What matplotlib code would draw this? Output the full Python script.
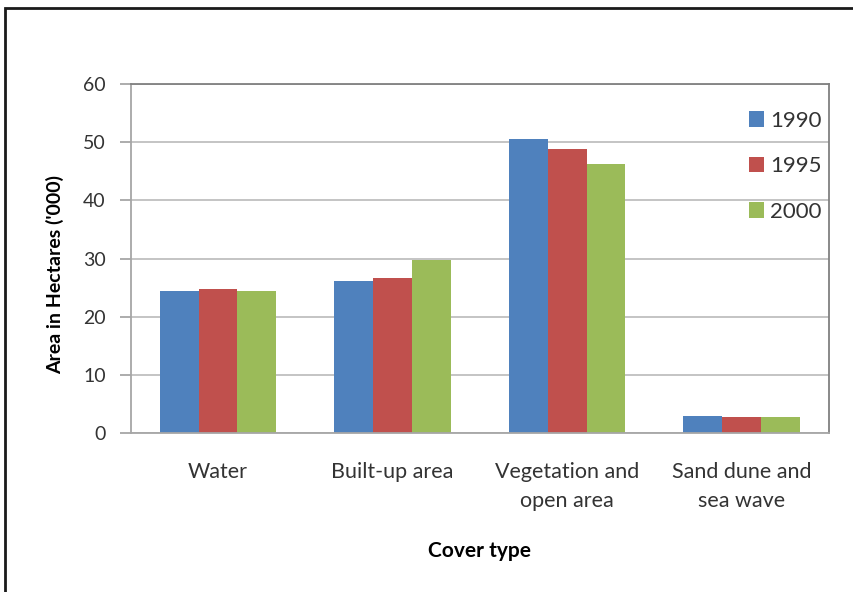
import numpy as np
import matplotlib.pyplot as plt
from matplotlib.patches import Rectangle

plt.rcParams['font.family'] = ['Lato', 'DejaVu Sans']

# area per cover type, thousands of hectares
cover_types = ["Water", "Built-up area", "Vegetation and\nopen area", "Sand dune and\nsea wave"]
years = ["1990", "1995", "2000"]
area_1990 = [24.4, 26.1, 50.6, 3.0]
area_1995 = [24.7, 26.6, 48.9, 2.75]
area_2000 = [24.4, 29.7, 46.2, 2.75]
colors = ["#4F81BD", "#C0504D", "#9BBB59"]

W, H = 854, 592
L, R, T, B = 130.7, 829, 84, 433
fig = plt.figure(figsize=(W / 100, H / 100), dpi=100)
ax = fig.add_axes([L / W, 1 - B / H, (R - L) / W, (B - T) / H])

x = np.arange(len(cover_types))
bw = 0.667 / 3
for i, (vals, yr) in enumerate(zip([area_1990, area_1995, area_2000], years)):
    ax.bar(x + (i - 1) * bw, vals, width=bw, color=colors[i], label=yr, zorder=2)

ax.set_xlim(-0.5, len(cover_types) - 0.5)
ax.set_ylim(0, 60)
ax.set_yticks(range(0, 61, 10))
ax.grid(axis='y', color='#BFBFBF', linewidth=1.3, zorder=0)
for s in ax.spines.values():
    s.set_color('#A6A6A6')
    s.set_linewidth(1.3)
ax.spines['right'].set_color('#808080')
ax.spines['top'].set_color('#808080')

ax.set_xticks(x)
ax.set_xticklabels(cover_types, fontsize=15.5, color='#333333', linespacing=1.55)
ax.tick_params(axis='x', length=0, pad=21)
ax.tick_params(axis='y', length=8, color='#A6A6A6', width=1.3, labelsize=14,
               labelcolor='#333333', pad=10)

ax.set_ylabel("Area in Hectares ('000)", fontsize=14, fontweight='bold', va='center')
ax.yaxis.set_label_coords((55 - L) / (R - L), (B - 275) / (B - T))
ax.set_xlabel("Cover type", fontsize=15, fontweight='bold', va='center')
ax.xaxis.set_label_coords(0.5, (B - 551) / (B - T))

leg = ax.legend(loc='upper left', bbox_to_anchor=((740 - L) / (R - L), 1 - 18 / (B - T)),
                frameon=False, fontsize=16, handlelength=0.7, handleheight=0.7,
                handletextpad=0.25, labelspacing=1.15, borderaxespad=0)
for t in leg.get_texts():
    t.set_color('#333333')

# outer chart frame
fig.patches.append(Rectangle((5 / W, -0.1), 1.1, 1 - 8 / H + 0.1, transform=fig.transFigure,
                             fill=False, edgecolor='#1a1a1a', linewidth=2))

fig.savefig("out.png", dpi=100)
